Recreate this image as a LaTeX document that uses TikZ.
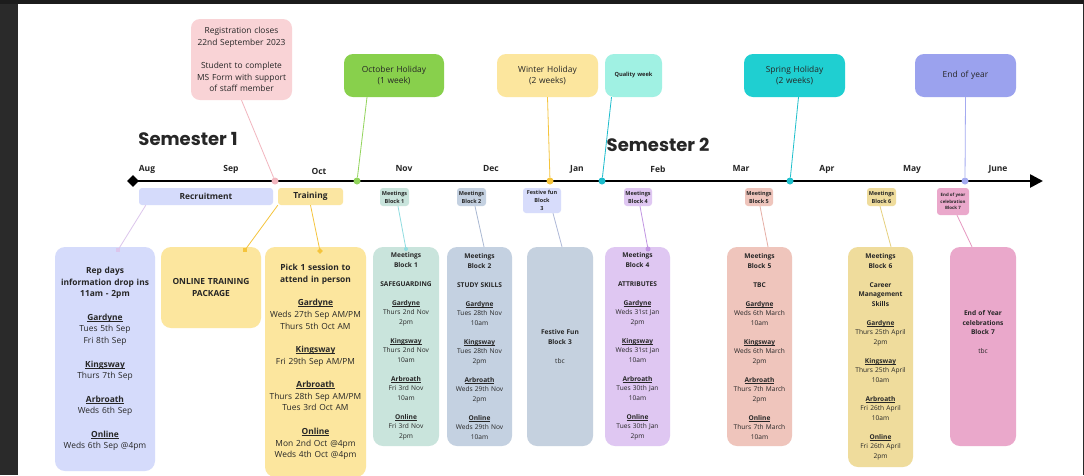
\documentclass[tikz,border=0pt]{standalone}
\usepackage{fontspec}
\setmainfont{Open Sans}
\newfontfamily\headfont{Poppins}
\usetikzlibrary{shapes.geometric,arrows.meta}

% palette
\definecolor{frame}{HTML}{2A2A2A}
\definecolor{frametop}{HTML}{1C1C1C}
\definecolor{ink}{HTML}{262626}
\definecolor{regpink}{HTML}{F9D3D6}
\definecolor{regline}{HTML}{F2B6BF}
\definecolor{octgreen}{HTML}{88D04C}
\definecolor{octline}{HTML}{92D45C}
\definecolor{winyellow}{HTML}{FCE69E}
\definecolor{winline}{HTML}{F5C43C}
\definecolor{qualaqua}{HTML}{A0F1E3}
\definecolor{qualline}{HTML}{1CBCCC}
\definecolor{springteal}{HTML}{1FCFD1}
\definecolor{springline}{HTML}{1FC0CC}
\definecolor{eoyblue}{HTML}{9BA2EE}
\definecolor{eoyline}{HTML}{A4AAF0}
\definecolor{recblue}{HTML}{D5DBFB}
\definecolor{recline}{HTML}{DCC6EC}
\definecolor{trainyellow}{HTML}{FBE6A2}
\definecolor{oneg}{HTML}{C9E4DC}
\definecolor{oneline}{HTML}{8FDCE0}
\definecolor{twog}{HTML}{C4D1E1}
\definecolor{twoline}{HTML}{A9B8D2}
\definecolor{threetag}{HTML}{D7DCFB}
\definecolor{threeg}{HTML}{C5D1DF}
\definecolor{threeline}{HTML}{AFB9D8}
\definecolor{fourg}{HTML}{DFC7F2}
\definecolor{fourline}{HTML}{C195E2}
\definecolor{fiveg}{HTML}{EFC5BC}
\definecolor{fiveline}{HTML}{E6AFA6}
\definecolor{sixg}{HTML}{EFDC9C}
\definecolor{sixline}{HTML}{E6D07E}
\definecolor{seveng}{HTML}{EAA8CB}
\definecolor{sevenline}{HTML}{E697C0}

\newcommand\bx[1]{\textbf{#1}}
% bold site name with a thin rule just under the baseline
\newsavebox\hdbox
\newcommand\hd[1]{\leavevmode\sbox\hdbox{\bfseries #1}\rlap{\rule[-0.13em]{\wd\hdbox}{0.075em}}\usebox\hdbox}

\tikzset{
  topbox/.style={rounded corners=9pt, inner sep=0pt, align=center, text=ink,
    font=\fontsize{8.4}{11.7}\selectfont},
  bigbox/.style={rounded corners=10pt, inner sep=0pt, align=center, text=ink},
  bigtext/.style={font=\fontsize{8.4}{11.7}\selectfont},
  meettext/.style={font=\fontsize{6.6}{9.5}\selectfont},
  bar/.style={rounded corners=3pt, inner sep=0pt, align=center, text=ink,
    font=\fontsize{8.4}{10}\selectfont\bfseries, minimum height=17pt},
  tagbox/.style={rounded corners=3pt, inner sep=0pt, align=center, text=ink,
    font=\fontsize{5.5}{8}\selectfont\bfseries},
  month/.style={font=\fontsize{8.5}{10}\selectfont\bfseries, text=ink, inner sep=0pt},
  semester/.style={font=\headfont\bfseries\fontsize{18}{20}\selectfont, text=ink, inner sep=0pt},
  tdot/.style={circle, inner sep=0pt, minimum size=7pt},
  conn/.style={line width=0.8pt},
  sqmark/.style={rectangle, inner sep=0pt, minimum size=4.5pt},
}

\begin{document}
\begin{tikzpicture}[x=1pt, y=-1pt]
\useasboundingbox (0,0) rectangle (1084,475);
% canvas on dark frame
\fill[frame] (0,0) rectangle (1084,475);
\fill[frametop] (0,0) rectangle (1084,4);
\fill[white] (18,4) rectangle (1083,475);

% semester headings
\node[semester] (sem1) at (188,139) {Semester 1};
\node[semester] (sem2) at (658,145) {Semester 2};

% months
\node[month] (mAug) at (147,169) {Aug};
\node[month] (mSep) at (231,169) {Sep};
\node[month] (mOct) at (319,171) {Oct};
\node[month] (mNov) at (404,169) {Nov};
\node[month] (mDec) at (491,169) {Dec};
\node[month] (mJan) at (577,169) {Jan};
\node[month] (mFeb) at (658,169) {Feb};
\node[month] (mMar) at (741,169) {Mar};
\node[month] (mApr) at (827,169) {Apr};
\node[month] (mMay) at (912,169) {May};
\node[month] (mJun) at (998,169) {June};

% timeline
\node[diamond, fill=black, inner sep=0pt, minimum size=12pt] (tstart) at (133,181) {};
\coordinate (tend) at (1043,181);
\draw[line width=2.6pt, -{Triangle[length=13pt,width=13pt]}] (tstart.center) -- (tend);

% top boxes
\node[topbox, fill=regpink, minimum width=101pt, minimum height=81pt, text width=97pt] (reg) at (241.5,59.5)
  {Registration closes\\22nd September 2023\\[11.7pt]Student to complete\\MS Form with support\\of staff member};
\node[topbox, fill=octgreen, minimum width=100pt, minimum height=43pt, text width=96pt] (oct) at (394,75.5)
  {October Holiday\\(1 week)};
\node[topbox, fill=winyellow, minimum width=101pt, minimum height=43pt, text width=96pt] (win) at (547.5,75.5)
  {Winter Holiday\\(2 weeks)};
\node[topbox, fill=qualaqua, minimum width=57pt, minimum height=43pt, text width=54pt,
  font=\fontsize{5.7}{7}\selectfont\bfseries] (qual) at (633.5,75.5) {Quality week};
\node[topbox, fill=springteal, minimum width=101pt, minimum height=43pt, text width=96pt] (spr) at (794.5,75.5)
  {Spring Holiday\\(2 weeks)};
\node[topbox, fill=eoyblue, minimum width=101pt, minimum height=43pt, text width=96pt] (eoy) at (965.5,75.5)
  {End of year};

% timeline markers
\node[tdot, fill=regline] (dReg) at (275,181) {};
\node[tdot, fill=octline] (dOct) at (357,181) {};
\node[tdot, fill=winline] (dWin) at (550,181) {};
\node[tdot, fill=qualline] (dQual) at (602,181) {};
\node[tdot, fill=springline] (dSpr) at (790,181) {};
\node[tdot, fill=eoyline] (dEoy) at (965,181) {};

\draw[conn, regline] (reg.south) -- (dReg);
\draw[conn, octline] ([xshift=-27pt]oct.south) -- (dOct);
\draw[conn, winline] (win.south) -- (dWin);
\draw[conn, qualline] ([xshift=-22pt]qual.south) -- (dQual);
\draw[conn, springline] ([xshift=4pt]spr.south) -- (dSpr);
\draw[conn, eoyline] (eoy.south) -- (dEoy);

% bars under the timeline
\node[bar, fill=recblue, minimum width=134pt] (rec) at (206,196.5) {Recruitment};
\node[bar, fill=trainyellow, minimum width=65pt] (train) at (310.5,196.5) {Training};

% meeting tags
\node[tagbox, fill=oneg, minimum width=29pt, minimum height=18pt] (t1) at (394.5,197) {Meetings\\Block 1};
\node[tagbox, fill=twog, minimum width=29pt, minimum height=18pt] (t2) at (471.5,197) {Meetings\\Block 2};
\node[tagbox, fill=threetag, minimum width=38pt, minimum height=25pt] (t3) at (542,200.5) {Festive fun\\Block\\3};
\node[tagbox, fill=fourg, minimum width=28pt, minimum height=18pt] (t4) at (638,197) {Meetings\\Block 4};
\node[tagbox, fill=fiveg, minimum width=28pt, minimum height=18pt] (t5) at (759,197) {Meetings\\Block 5};
\node[tagbox, fill=sixg, minimum width=29pt, minimum height=18pt] (t6) at (881.5,197) {Meetings\\Block 6};
\node[tagbox, fill=seveng, minimum width=32pt, minimum height=27pt,
  font=\fontsize{4.4}{6.6}\selectfont\bfseries] (t7) at (953,201.5) {End of year\\celebration\\Block 7};

% detail boxes
\node[bigbox, bigtext, fill=recblue, minimum width=100pt, minimum height=224pt, text width=96pt] (rep) at (105,359)
  {\bx{Rep days}\\\bx{information drop ins}\\\bx{11am - 2pm}\\[11.7pt]
   \hd{Gardyne}\\Tues 5th Sep\\Fri 8th Sep\\[11.7pt]
   \hd{Kingsway}\\Thurs 7th Sep\\[11.7pt]
   \hd{Arbroath}\\Weds 6th Sep\\[11.7pt]
   \hd{Online}\\Weds 6th Sep @4pm};
\node[bigbox, bigtext, fill=winyellow, minimum width=100pt, minimum height=81pt, text width=96pt] (online) at (211,287.5)
  {\bx{ONLINE TRAINING}\\\bx{PACKAGE}};
\node[bigbox, bigtext, fill=winyellow, minimum width=101pt, minimum height=230pt, text width=98pt] (pick) at (315.5,362)
  {\bx{Pick 1 session to}\\\bx{attend in person}\\[11.7pt]
   \hd{Gardyne}\\Weds 27th Sep AM/PM\\Thurs 5th Oct AM\\[11.7pt]
   \hd{Kingsway}\\Fri 29th Sep AM/PM\\[11.7pt]
   \hd{Arbroath}\\Thurs 28th Sep AM/PM\\Tues 3rd Oct AM\\[11.7pt]
   \hd{Online}\\Mon 2nd Oct @4pm\\Weds 4th Oct @4pm};
\node[bigbox, meettext, fill=oneg, minimum width=66pt, minimum height=199pt, text width=63pt] (b1) at (406,346.5)
  {\bx{Meetings}\\\bx{Block 1}\\[9.5pt]\bx{SAFEGUARDING}\\[9.5pt]
   \hd{Gardyne}\\Thurs 2nd Nov\\2pm\\[9.5pt]
   \hd{Kingsway}\\Thurs 2nd Nov\\10am\\[9.5pt]
   \hd{Arbroath}\\Fri 3rd Nov\\10am\\[9.5pt]
   \hd{Online}\\Fri 3rd Nov\\2pm};
\node[bigbox, meettext, fill=twog, minimum width=65pt, minimum height=199pt, text width=62pt] (b2) at (479.5,346.5)
  {\bx{Meetings}\\\bx{Block 2}\\[9.5pt]\bx{STUDY SKILLS}\\[9.5pt]
   \hd{Gardyne}\\Tues 28th Nov\\10am\\[9.5pt]
   \hd{Kingsway}\\Tues 28th Nov\\2pm\\[9.5pt]
   \hd{Arbroath}\\Weds 29th Nov\\2pm\\[9.5pt]
   \hd{Online}\\Weds 29th Nov\\10am};
\node[bigbox, meettext, fill=threeg, minimum width=66pt, minimum height=199pt, text width=63pt] (b3) at (560,346.5)
  {\bx{Festive Fun}\\\bx{Block 3}\\[9.5pt]tbc};
\node[bigbox, meettext, fill=fourg, minimum width=65pt, minimum height=199pt, text width=62pt] (b4) at (637.5,346.5)
  {\bx{Meetings}\\\bx{Block 4}\\[9.5pt]\bx{ATTRIBUTES}\\[9.5pt]
   \hd{Gardyne}\\Weds 31st Jan\\2pm\\[9.5pt]
   \hd{Kingsway}\\Weds 31st Jan\\10am\\[9.5pt]
   \hd{Arbroath}\\Tues 30th Jan\\10am\\[9.5pt]
   \hd{Online}\\Tues 30th Jan\\2pm};
\node[bigbox, meettext, fill=fiveg, minimum width=65pt, minimum height=199pt, text width=62pt] (b5) at (759.5,346.5)
  {\bx{Meetings}\\\bx{Block 5}\\[9.5pt]\bx{TBC}\\[9.5pt]
   \hd{Gardyne}\\Weds 6th March\\10am\\[9.5pt]
   \hd{Kingsway}\\Weds 6th March\\2pm\\[9.5pt]
   \hd{Arbroath}\\Thurs 7th March\\2pm\\[9.5pt]
   \hd{Online}\\Thurs 7th March\\10am};
\node[bigbox, meettext, fill=sixg, minimum width=65pt, minimum height=220pt, text width=62pt] (b6) at (880.5,357)
  {\bx{Meetings}\\\bx{Block 6}\\[9.5pt]\bx{Career}\\\bx{Management}\\\bx{Skills}\\[9.5pt]
   \hd{Gardyne}\\Thurs 25th April\\2pm\\[9.5pt]
   \hd{Kingsway}\\Thurs 25th April\\10am\\[9.5pt]
   \hd{Arbroath}\\Fri 26th April\\10am\\[9.5pt]
   \hd{Online}\\Fri 26th April\\2pm};
\node[bigbox, meettext, fill=seveng, minimum width=66pt, minimum height=199pt, text width=63pt] (b7) at (983,346.5)
  {\bx{End of Year}\\\bx{celebrations}\\\bx{Block 7}\\[9.5pt]tbc\\[19pt]\mbox{}};

% connectors from bars and tags to the detail boxes
\node[sqmark, fill=recline] (mRep) at (118,250) {};
\node[sqmark, fill=winline] (mOnline) at (245,250) {};
\node[diamond, inner sep=0pt, minimum size=6pt, fill=winline] (mPick) at (320,251) {};
\node[tdot, minimum size=4pt, fill=oneline] (m1) at (406,249) {};
\node[tdot, minimum size=5pt, fill=fourline] (m4) at (648,249) {};

\draw[conn, recline] ([xshift=7pt]rec.south west) -- (mRep.center);
\draw[conn, winline] (train.south west) -- (mOnline.center);
\draw[conn, winline] (train.south) -- (mPick.center);
\draw[conn, oneline] ([xshift=3.5pt]t1.south) -- (m1.center);
\draw[conn, twoline] ([xshift=3.5pt]t2.south) -- ([xshift=4.5pt]b2.north);
\draw[conn, threeline] ([xshift=11pt]t3.south) -- ([xshift=2pt]b3.north);
\draw[conn, fourline] ([xshift=2pt]t4.south) -- (m4.center);
\draw[conn, fiveline] ([xshift=1pt]t5.south) -- ([xshift=8.5pt]b5.north);
\draw[conn, sixline] ([xshift=-1.5pt]t6.south) -- ([xshift=10.5pt]b6.north);
\draw[conn, sevenline] ([xshift=4pt]t7.south) -- ([xshift=-11pt]b7.north);
\end{tikzpicture}
\end{document}
